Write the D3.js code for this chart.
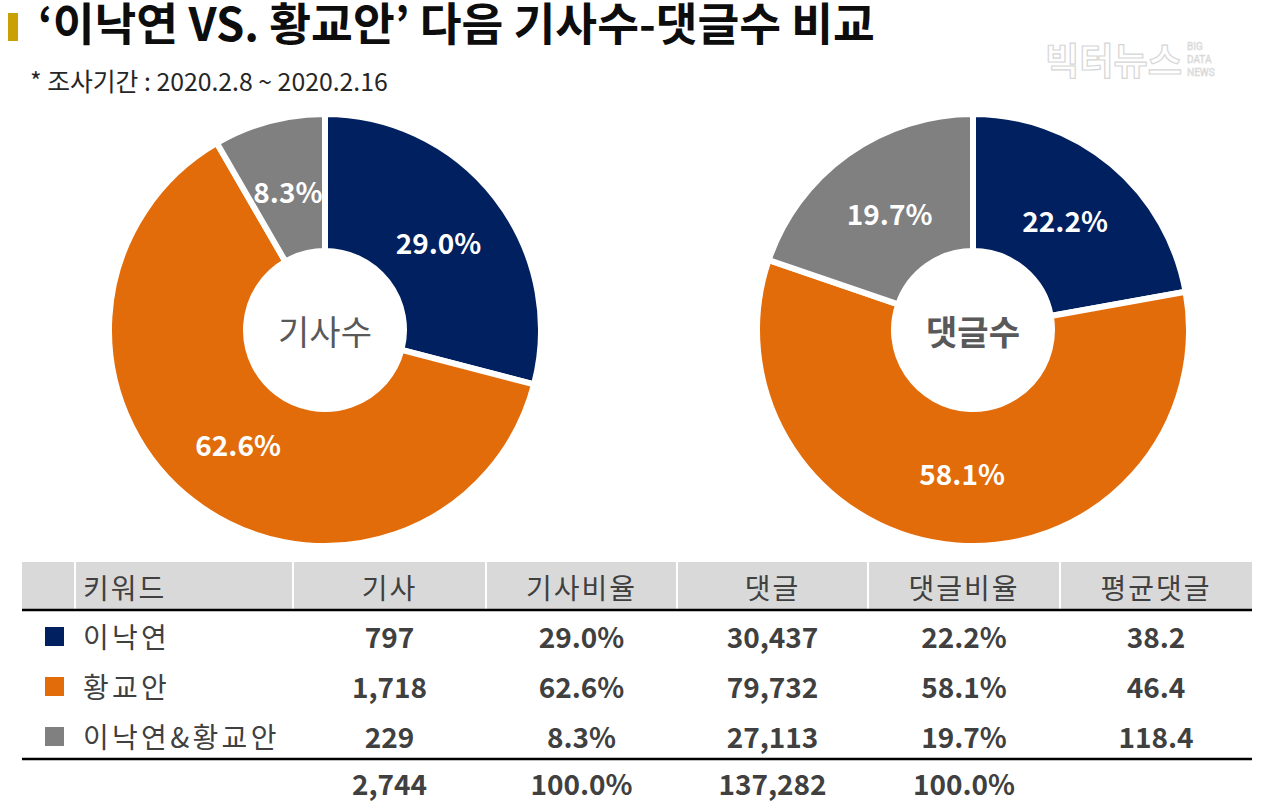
<!DOCTYPE html>
<html><head><meta charset="utf-8">
<script src="https://cdn.jsdelivr.net/npm/d3@7"></script>
<style>
html,body{margin:0;padding:0;background:#fff;}
svg{display:block;font-family:"Noto Sans CJK KR","Noto Sans",sans-serif;}
</style></head>
<body><svg id="c" width="1280" height="804"></svg>
<script>
// ---- data ----
const categories = ['이낙연', '황교안', '이낙연&황교안'];
const articles = [797, 1718, 229];
const articleShare = [29.0, 62.6, 8.3];
const comments = [30437, 79732, 27113];
const commentShare = [22.2, 58.1, 19.7];
const avgComments = [38.2, 46.4, 118.4];
const totals = ['2,744', '100.0%', '137,282', '100.0%', ''];
const headers = ['키워드', '기사', '기사비율', '댓글', '댓글비율', '평균댓글'];
const colors = ['#002060', '#E36C0A', '#808080'];
const donutTitles = ['기사수', '댓글수'];

const svg = d3.select('#c');

// ---- title ----
svg.append('rect').attr('x', 8).attr('y', 13).attr('width', 10).attr('height', 28).attr('fill', '#C9A006');
function fitText(sel, w) {
  const cur = sel.node().getComputedTextLength();
  const fs = parseFloat(sel.attr('font-size'));
  sel.attr('font-size', fs * w / cur);
}
const title = svg.append('text').attr('x', 38).attr('y', 41)
  .attr('font-size', 36).attr('font-weight', 'bold').attr('fill', '#0d0d0d')
  .text('‘이낙연 VS. 황교안’ 다음 기사수-댓글수 비교');
fitText(title, 837);
const sub = svg.append('text').attr('x', 30).attr('y', 80).attr('dominant-baseline', 'central')
  .attr('font-size', 20).attr('fill', '#262626')
  .text('* 조사기간 : 2020.2.8 ~ 2020.2.16');
fitText(sub, 358);

// ---- watermark ----
const wm = svg.append('g').attr('fill', '#fff').attr('stroke', '#d6d6d6').attr('stroke-width', 1.2);
const wmt = wm.append('text').attr('x', 1045).attr('y', 59).attr('dominant-baseline', 'central')
  .attr('font-size', 38).attr('font-weight', 'bold').text('빅터뉴스');
fitText(wmt, 137);
['BIG', 'DATA', 'NEWS'].forEach((t, i) => {
  wm.append('text').attr('x', 1187).attr('y', 50 + i * 13)
    .attr('font-family', 'Roboto, sans-serif')
    .attr('font-size', 10).attr('stroke-width', 0.6).text(t);
});

// ---- donuts ----
const pie = d3.pie().sort(null).value(d => d.v);
const arc = d3.arc().innerRadius(79).outerRadius(216);
const labelArc = d3.arc().innerRadius(82).outerRadius(205);
const fmtPct = d3.format('.1f');
const donuts = [
  {cx: 325, cy: 330, vals: articles, pct: articleShare, title: donutTitles[0], weight: 'normal'},
  {cx: 973, cy: 330, vals: comments, pct: commentShare, title: donutTitles[1], weight: 'bold'}
];
donuts.forEach(dn => {
  const g = svg.append('g').attr('transform', `translate(${dn.cx},${dn.cy})`);
  const data = pie(dn.vals.map((v, i) => ({v, i})));
  g.selectAll('path').data(data).join('path')
    .attr('d', arc).attr('fill', d => colors[d.data.i])
    .attr('stroke', '#fff').attr('stroke-width', 6).attr('stroke-linejoin', 'miter');
  g.selectAll('text.lab').data(data).join('text').attr('class', 'lab')
    .attr('transform', d => `translate(${labelArc.centroid(d)})`)
    .attr('text-anchor', 'middle').attr('dominant-baseline', 'central')
    .attr('fill', '#fff').attr('font-size', 28).attr('font-weight', 'bold')
    .text(d => fmtPct(dn.pct[d.data.i]) + '%');
  g.append('text').attr('text-anchor', 'middle').attr('dominant-baseline', 'central')
    .attr('y', 0).attr('font-size', 34).attr('font-weight', dn.weight).attr('fill', '#595959')
    .text(dn.title);
});

// ---- table ----
const colEdges = [22, 75, 293, 486, 677, 868, 1060, 1252];
const headTop = 562, headBot = 609;
const rowCenters = [636, 686, 736, 783];
const FS = 28;
svg.append('rect').attr('x', colEdges[0]).attr('y', headTop).attr('width', colEdges[7] - colEdges[0])
  .attr('height', headBot - headTop).attr('fill', '#D9D9D9');
colEdges.slice(1, 7).forEach(x => {
  svg.append('line').attr('x1', x).attr('x2', x).attr('y1', headTop).attr('y2', headBot)
    .attr('stroke', '#fff').attr('stroke-width', 2);
});
svg.append('line').attr('x1', 22).attr('x2', 1252).attr('y1', 610).attr('y2', 610).attr('stroke', '#000').attr('stroke-width', 2.5);
svg.append('line').attr('x1', 22).attr('x2', 1252).attr('y1', 759).attr('y2', 759).attr('stroke', '#000').attr('stroke-width', 2.5);

const colCenter = i => (colEdges[i + 1] + colEdges[i + 2]) / 2;
headers.forEach((h, i) => {
  svg.append('text')
    .attr('x', i === 0 ? 83 : colCenter(i)).attr('y', 587)
    .attr('text-anchor', i === 0 ? 'start' : 'middle').attr('dominant-baseline', 'central')
    .attr('letter-spacing', 2).attr('font-size', FS).attr('fill', '#404040').text(h);
});
const fmtInt = d3.format(',');
categories.forEach((c, r) => {
  const y = rowCenters[r];
  svg.append('rect').attr('x', 45).attr('y', y - 9).attr('width', 19).attr('height', 19).attr('fill', colors[r]);
  svg.append('text').attr('x', 83).attr('y', y).attr('dominant-baseline', 'central')
    .attr('letter-spacing', 3.3).attr('font-size', FS).attr('fill', '#404040').text(c);
  const cells = [fmtInt(articles[r]), fmtPct(articleShare[r]) + '%', fmtInt(comments[r]), fmtPct(commentShare[r]) + '%', d3.format('.1f')(avgComments[r])];
  cells.forEach((t, k) => {
    svg.append('text').attr('x', colCenter(k + 1)).attr('y', y).attr('text-anchor', 'middle')
      .attr('dominant-baseline', 'central').attr('font-size', FS).attr('font-weight', 'bold')
      .attr('fill', '#404040').text(t);
  });
});
totals.forEach((t, k) => {
  svg.append('text').attr('x', colCenter(k + 1)).attr('y', rowCenters[3]).attr('text-anchor', 'middle')
    .attr('dominant-baseline', 'central').attr('font-size', FS).attr('font-weight', 'bold')
    .attr('fill', '#404040').text(t);
});
</script></body></html>
